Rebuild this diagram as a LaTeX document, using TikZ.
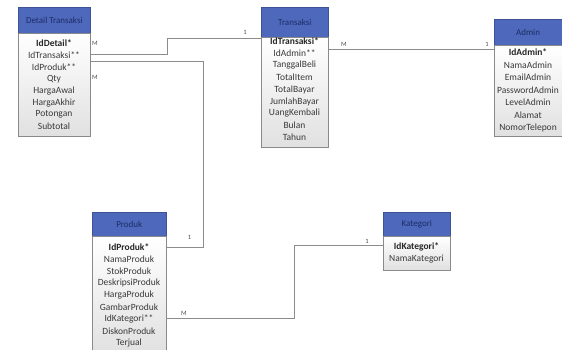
\documentclass[tikz,border=0pt]{standalone}
\usepackage{fontspec}
\setmainfont{Carlito}
\usetikzlibrary{calc}
\definecolor{hdrfill}{HTML}{4E68BC}
\definecolor{hdrtext}{HTML}{1C2C66}
\definecolor{rowtext}{HTML}{3A3A3A}
\definecolor{edge}{HTML}{8A8A8A}
\definecolor{linkc}{HTML}{8C8C8C}
\tikzset{
  hdr/.style={draw=hdrfill!80!black, fill=hdrfill, line width=0.6pt, anchor=north west, inner sep=0pt, text=hdrtext, font=\fontsize{9}{10}\selectfont},
  bodybox/.style={draw=edge, line width=0.8pt, top color=white, bottom color=black!12, anchor=north west, inner sep=0pt},
  row/.style={inner sep=0pt, text=rowtext, font=\fontsize{9.5}{10}\selectfont},
  keyrow/.style={row, text=black!85, font=\fontsize{9.5}{10}\selectfont\bfseries},
  link/.style={draw=linkc, line width=1pt},
  card/.style={inner sep=0pt, text=black!70, font=\fontsize{6.5}{7}\selectfont}
}
\begin{document}
\begin{tikzpicture}[x=1pt,y=-1pt]
\useasboundingbox (0,0) rectangle (562,350);
% Detail Transaksi
\node[hdr, minimum width=72pt, minimum height=26pt] (dth) at (18,7) {};
\node[text=hdrtext, font=\fontsize{9}{10}\selectfont] (dtt) at (dth.center) {Detail Transaksi};
\node[bodybox, minimum width=72pt, minimum height=103pt] (dtb) at (18,33) {};
\node[keyrow] (dt-1) at (54,42.7) {IdDetail*};
\foreach \t [count=\i from 2] in {IdTransaksi**,IdProduk**,Qty,HargaAwal,HargaAkhir,Potongan,Subtotal}
  \node[row] (dt-\i) at (54,{42.7+12*(\i-1)}) {\t};
% Transaksi
\node[hdr, minimum width=67pt, minimum height=30pt] (trh) at (261,7) {};
\node[text=hdrtext, font=\fontsize{9}{10}\selectfont] (trt) at (trh.center) {Transaksi};
\node[bodybox, minimum width=67pt, minimum height=110pt] (trb) at (261,37) {};
\node[keyrow] (tr-1) at (294.5,41.5) {IdTransaksi*};
\foreach \t [count=\i from 2] in {IdAdmin**,TanggalBeli,TotalItem,TotalBayar,JumlahBayar,UangKembali,Bulan,Tahun}
  \node[row] (tr-\i) at (294.5,{41.5+12*(\i-1)}) {\t};
% Admin
\node[hdr, minimum width=67.5pt, minimum height=26pt] (adh) at (494,19) {};
\node[text=hdrtext, font=\fontsize{9}{10}\selectfont] (adt) at (adh.center) {Admin};
\node[bodybox, minimum width=67.5pt, minimum height=91pt] (adb) at (494,45) {};
\node[keyrow] (ad-1) at (528,52.5) {IdAdmin*};
\foreach \t [count=\i from 2] in {NamaAdmin,EmailAdmin,PasswordAdmin,LevelAdmin,Alamat,NomorTelepon}
  \node[row] (ad-\i) at (528,{52.5+12.5*(\i-1)}) {\t};
% Produk
\node[hdr, minimum width=74pt, minimum height=24pt] (prh) at (92,212) {};
\node[text=hdrtext, font=\fontsize{9}{10}\selectfont] (prt) at (prh.center) {Produk};
\node[bodybox, minimum width=74pt, minimum height=118pt] (prb) at (92,236) {};
\node[keyrow] (pr-1) at (129,247.3) {IdProduk*};
\foreach \t [count=\i from 2] in {NamaProduk,StokProduk,DeskripsiProduk,HargaProduk,GambarProduk,IdKategori**,DiskonProduk,Terjual}
  \node[row] (pr-\i) at (129,{247.3+12*(\i-1)}) {\t};
% Kategori
\node[hdr, minimum width=67pt, minimum height=24pt] (kah) at (383,212) {};
\node[text=hdrtext, font=\fontsize{9}{10}\selectfont] (kat) at (kah.center) {Kategori};
\node[bodybox, minimum width=67pt, minimum height=34pt] (kab) at (383,236) {};
\node[keyrow] (ka-1) at (416.5,247.3) {IdKategori*};
\node[row] (ka-2) at (416.5,259.3) {NamaKategori};
% connectors
\coordinate (b1) at (167,55);
\coordinate (b2) at (167,39);
\draw[link] ([yshift=-22pt]dtb.north east) -- (b1) -- (b2) -- ([yshift=-2pt]trb.north west);
\coordinate (b3) at (203,62);
\coordinate (b4) at (203,247);
\draw[link] ([yshift=-29pt]dtb.north east) -- (b3) -- (b4) -- ([yshift=-11pt]prb.north east);
\draw[link] ([yshift=-13pt]trb.north east) -- ([yshift=-5pt]adb.north west);
\coordinate (b5) at (294,318);
\coordinate (b6) at (294,245);
\draw[link] ([yshift=-82pt]prb.north east) -- (b5) -- (b6) -- ([yshift=-9pt]kab.north west);
% cardinalities
\node[card] (m1) at (95,43) {M};
\node[card] (o1) at (245,32.5) {1};
\node[card] (m2) at (95,77) {M};
\node[card] (o2) at (189.5,237) {1};
\node[card] (m3) at (344,44) {M};
\node[card] (o3) at (487,44) {1};
\node[card] (m4) at (184,313) {M};
\node[card] (o4) at (367,241.5) {1};
\end{tikzpicture}
\end{document}
